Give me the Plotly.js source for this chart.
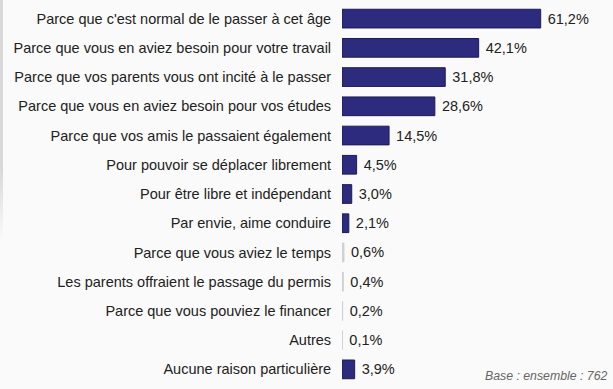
<!DOCTYPE html>
<html><head><meta charset="utf-8">
<script src="https://cdn.plot.ly/plotly-3.0.1.min.js"></script>
<style>html,body{margin:0;padding:0;background:#fafafa;}#c{width:613px;height:389px;}</style>
</head><body><div id="c"></div>
<script>
const categories = [
  "Parce que c'est normal de le passer à cet âge",
  "Parce que vous en aviez besoin pour votre travail",
  "Parce que vos parents vous ont incité à le passer",
  "Parce que vous en aviez besoin pour vos études",
  "Parce que vos amis le passaient également",
  "Pour pouvoir se déplacer librement",
  "Pour être libre et indépendant",
  "Par envie, aime conduire",
  "Parce que vous aviez le temps",
  "Les parents offraient le passage du permis",
  "Parce que vous pouviez le financer",
  "Autres",
  "Aucune raison particulière"
];
const values = [61.2, 42.1, 31.8, 28.6, 14.5, 4.5, 3.0, 2.1, 0.6, 0.4, 0.2, 0.1, 3.9];
const baseNote = "Base : ensemble : 762";

const labels = values.map(v => ' ' + v.toFixed(1).replace('.', ',') + '%');
const colors = values.map(v => v < 1 ? '#cfcfd6' : '#2d2b7e');
const lineColors = values.map(v => v < 1 ? '#cfcfd6' : '#1c1b58');
const FONT = 'Liberation Sans, Arial, sans-serif';

const trace = {
  type: 'bar', orientation: 'h',
  x: values, y: categories,
  text: labels, textposition: 'outside', cliponaxis: false,
  textfont: {family: FONT, size: 14.5, color: '#222'},
  marker: {color: colors, line: {color: lineColors, width: 1}},
  width: 0.64,
  hoverinfo: 'none'
};
const layout = {
  width: 613, height: 389,
  margin: {l: 342, r: 47, t: 4, b: 5},
  paper_bgcolor: '#fafafa', plot_bgcolor: '#fafafa',
  showlegend: false,
  xaxis: {range: [0, 69], visible: false, fixedrange: true},
  yaxis: {type: 'category', autorange: 'reversed', showline: false, showgrid: false, zeroline: false,
    ticks: 'outside', ticklen: 7, tickcolor: 'rgba(0,0,0,0)',
    tickfont: {family: FONT, size: 14.5, color: '#222'}},
  annotations: [{xref: 'paper', yref: 'paper', x: 1.195, y: 0.01, yshift: -5, xanchor: 'right', yanchor: 'bottom',
    text: baseNote, showarrow: false,
    font: {family: FONT, size: 12.3, color: '#666', style: 'italic'}}]
};
Plotly.newPlot('c', [trace], layout, {displayModeBar: false, staticPlot: true}).then(() => {
  const d = document.createElement('div');
  d.style.cssText = 'position:absolute;left:0;top:0;width:3px;height:240px;background:linear-gradient(to bottom,#d8d8d8,#d8d8d8 70%,rgba(216,216,216,0));';
  document.body.appendChild(d);
});
</script></body></html>
